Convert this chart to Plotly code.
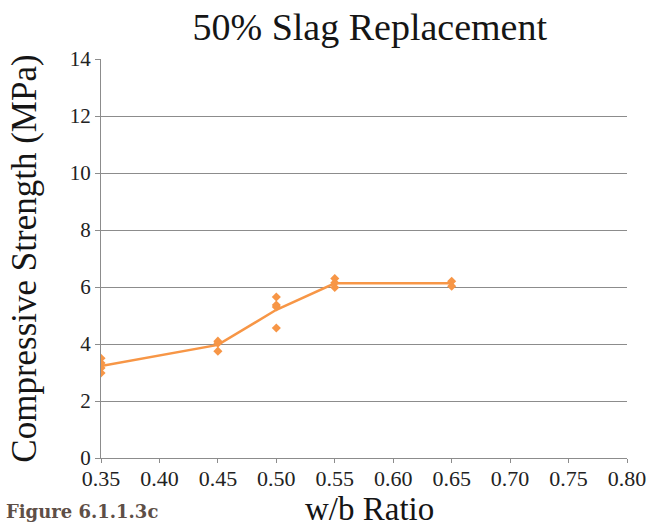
import plotly.graph_objects as go

# Compressive strength test results at each water/binder ratio
wb_samples = [0.35, 0.35, 0.35, 0.35,
              0.45, 0.45, 0.45,
              0.50, 0.50, 0.50, 0.50,
              0.55, 0.55, 0.55,
              0.65, 0.65]
strength_samples = [3.50, 3.33, 3.16, 2.98,
                    4.10, 4.03, 3.75,
                    5.65, 5.37, 5.30, 4.56,
                    6.30, 6.15, 5.98,
                    6.20, 6.03]

# Average strength per ratio
wb_mean = [0.35, 0.45, 0.50, 0.55, 0.65]
strength_mean = [3.23, 3.97, 5.20, 6.13, 6.13]

x_ticks = [0.35, 0.40, 0.45, 0.50, 0.55, 0.60, 0.65, 0.70, 0.75, 0.80]
y_ticks = [0, 2, 4, 6, 8, 10, 12, 14]

orange = "#F79646"
serif = "Liberation Serif, DejaVu Serif, serif"

fig = go.Figure()
fig.add_trace(go.Scatter(
    x=wb_mean, y=strength_mean, mode="lines",
    line=dict(color=orange, width=2.5), hoverinfo="skip", showlegend=False))
fig.add_trace(go.Scatter(
    x=wb_samples, y=strength_samples, mode="markers",
    marker=dict(symbol="diamond", size=7, color=orange), showlegend=False))

fig.update_layout(
    width=651, height=527,
    margin=dict(l=101, r=24, t=59, b=69),
    paper_bgcolor="white", plot_bgcolor="white",
    font=dict(family=serif, color="#222222"),
    title=dict(text="50% Slag Replacement", x=0.568, xanchor="center",
               y=0.949, yanchor="middle",
               font=dict(family=serif, size=38, color="#151515")),
)
fig.update_xaxes(
    range=[0.35, 0.80], tickvals=x_ticks,
    ticktext=[f"{v:.2f}" for v in x_ticks],
    showgrid=False, zeroline=False, automargin=False,
    showline=True, linecolor="#8c8c8c", linewidth=1,
    ticks="outside", ticklen=4, tickcolor="#8c8c8c",
    ticklabelstandoff=-3,
    tickfont=dict(size=22, family=serif, color="#222222"),
)
fig.update_yaxes(
    range=[0, 14], tickvals=y_ticks,
    showgrid=True, gridcolor="#8c8c8c", gridwidth=1, zeroline=False, automargin=False,
    showline=True, linecolor="#8c8c8c", linewidth=1,
    ticks="outside", ticklen=5, tickcolor="#8c8c8c",
    tickfont=dict(size=21, family=serif, color="#222222"),
    title=dict(text="Compressive Strength (MPa)",
               font=dict(size=35, family=serif, color="#151515"), standoff=22),
)

# x-axis title and figure caption share the bottom strip
fig.add_annotation(
    text="w/b Ratio", xref="paper", yref="paper",
    x=0.51, y=-0.128, xanchor="center", yanchor="middle", showarrow=False,
    font=dict(size=33, family=serif, color="#151515"))
fig.add_annotation(
    text="<b>Figure 6.1.1.3c</b>", xref="paper", yref="paper",
    x=-0.185, y=-0.133, xanchor="left", yanchor="middle", showarrow=False,
    font=dict(size=18, family="DejaVu Serif, serif", color="#5e4f47"))

fig.write_html("out.html")
